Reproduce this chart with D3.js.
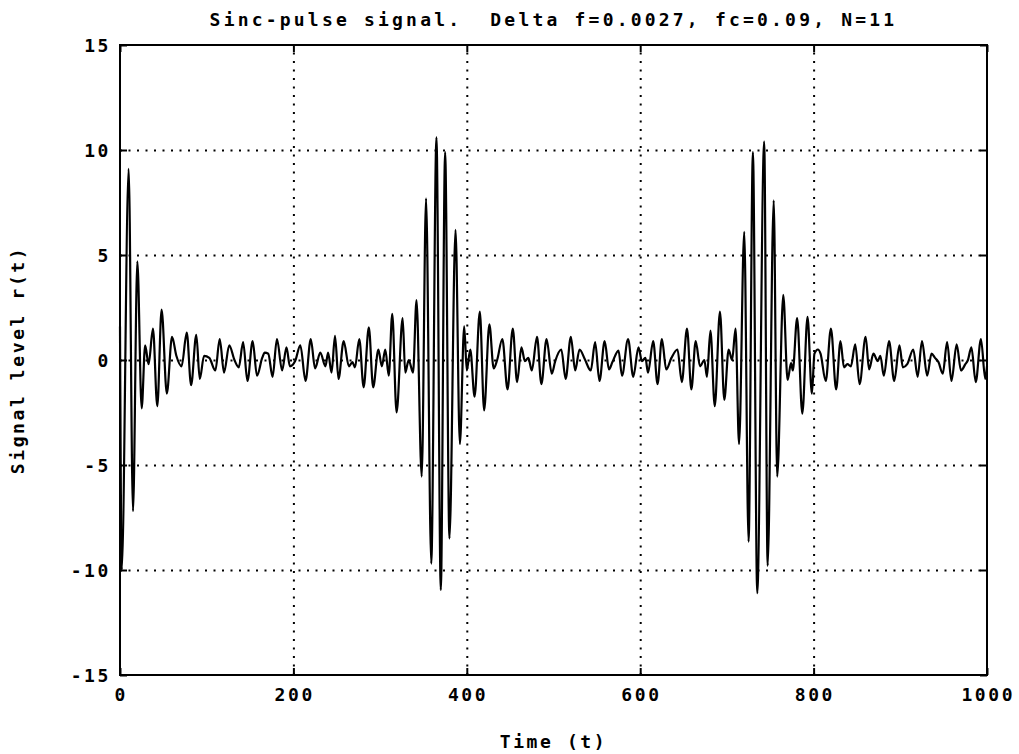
<!doctype html>
<html>
<head>
<meta charset="utf-8">
<title>sinc-pulse signal</title>
<script src="https://d3js.org/d3.v7.min.js"></script>
<style>
  body { margin: 0; background: #fff; }
  text {
    font-family: "DejaVu Sans Mono", monospace;
    font-weight: bold;
    font-size: 18px;
    letter-spacing: 2.6px;
    fill: #000;
    white-space: pre;
  }
  .grid line { stroke: #000; stroke-width: 2; stroke-dasharray: 2, 6.5; }
  .grid path { display: none; }
  .tick-in line { stroke: #000; stroke-width: 2; }
  .tick-in path { display: none; }
</style>
</head>
<body>
<svg></svg>
<script>
// local extremes of r(t)
var timeVals = [0, 2, 10, 15, 20, 25, 29, 33, 38, 43, 48, 54, 60, 65, 71, 77, 82, 88, 92, 97,
  103, 110, 115, 120, 126, 132, 137, 142, 147, 153, 158, 164, 167, 171, 176, 181, 187, 192, 196, 202,
  208, 214, 220, 225, 231, 237, 240, 244, 248, 252, 258, 264, 268, 271, 276, 281, 287, 292, 298, 302,
  306, 310, 314, 319, 326, 329, 333, 338, 342, 348, 353, 359, 365, 370, 375, 380, 387, 392, 397, 400,
  404, 409, 415, 420, 426, 431, 435, 441, 447, 453, 458, 463, 467, 471, 475, 481, 486, 492, 498, 502,
  509, 514, 520, 525, 530, 536, 543, 548, 553, 559, 564, 568, 575, 579, 586, 592, 598, 602, 606, 609,
  615, 620, 625, 630, 636, 643, 648, 654, 659, 664, 669, 674, 677, 681, 686, 692, 697, 702, 706, 710,
  714, 720, 725, 730, 735, 743, 747, 754, 758, 765, 770, 774, 776, 781, 787, 793, 798, 801, 805, 808,
  814, 820, 826, 831, 835, 839, 843, 848, 853, 860, 864, 869, 874, 877, 881, 887, 893, 899, 903, 908,
  915, 920, 925, 931, 936, 940, 944, 949, 954, 959, 965, 970, 975, 978, 982, 987, 993, 998, 1000];

var signalVals = [1.6, -10.0, 9.1, -7.2, 4.7, -2.3, 0.7, -0.2, 1.5, -2.2, 2.4, -1.6, 1.1, 0.2, -0.3, 1.3, -1.2, 1.2, -0.9, 0.2,
  0.1, -0.5, 1.0, -0.6, 0.7, 0.0, -0.35, 0.85, -1.0, 0.9, -0.75, 0.1, 0.35, 0.3, -0.8, 1.0, -0.5, 0.6, -0.3, -0.05,
  0.7, -1.0, 1.0, -0.4, 0.35, -0.3, 0.35, -0.6, 1.15, -0.9, 0.9, -0.3, -0.1, -0.35, 1.0, -1.3, 1.55, -1.3, 0.5, -0.3,
  0.5, -0.75, 2.2, -2.5, 2.0, -0.6, 0.0, -0.6, 2.85, -5.55, 7.7, -9.7, 10.6, -10.95, 9.9, -8.5, 6.2, -4.0, 1.6, -0.5,
  0.5, -1.75, 2.3, -2.4, 1.7, -0.4, 0.0, 1.0, -1.4, 1.5, -1.05, 0.6, -0.05, 0.1, -0.5, 1.1, -1.15, 1.0, -0.65, -0.05,
  0.5, -0.9, 1.1, -0.5, 0.5, 0.05, -0.5, 0.85, -1.0, 0.9, -0.45, -0.1, 0.45, -0.75, 1.0, -0.8, 0.6, -0.05, 0.1, -0.6,
  0.9, -1.15, 1.0, -0.45, 0.1, 0.5, -1.05, 1.5, -1.4, 0.9, -0.3, 0.0, -0.8, 1.4, -2.2, 2.3, -1.9, 0.5, 0.0, 1.5,
  -4.0, 6.1, -8.65, 9.9, -11.1, 10.4, -9.8, 7.6, -5.55, 3.1, -0.95, -0.15, -0.5, 2.0, -2.55, 2.05, -1.6, 0.3, 0.5, 0.3,
  -1.0, 1.5, -1.4, 0.9, -0.35, -0.2, -0.3, 0.75, -1.15, 1.1, -0.45, 0.3, -0.05, 0.2, -0.75, 0.9, -1.0, 0.7, -0.35, -0.2,
  0.5, -0.8, 0.9, -0.75, 0.3, 0.1, -0.1, -0.65, 0.85, -1.0, 0.75, -0.5, -0.2, 0.0, 0.6, -1.05, 1.0, -0.9, -0.3];

var xTicks = [0, 200, 400, 600, 800, 1000];
var yTicks = [-15, -10, -5, 0, 5, 10, 15];
var titleText = "Sinc-pulse signal.  Delta f=0.0027, fc=0.09, N=11";
var xLabel = "Time (t)";
var yLabel = "Signal level r(t)";

var W = 1019, H = 754;
var margin = {top: 45, right: 32, bottom: 79, left: 120};
var w = W - margin.left - margin.right,
  h = H - margin.top - margin.bottom;

var svg = d3.select('svg').attr('width', W).attr('height', H);
var g = svg.append('g').attr('transform', 'translate(' + margin.left + ',' + margin.top + ')');

var x = d3.scaleLinear().domain([0, 1000]).range([0, w]);
var y = d3.scaleLinear().domain([-15, 15]).range([h, 0]);

// dotted grid
g.append('g').attr('class', 'grid')
  .attr('transform', 'translate(0,' + h + ')')
  .call(d3.axisBottom(x).tickValues(xTicks.slice(1, -1)).tickSize(-h).tickFormat(''));
g.append('g').attr('class', 'grid')
  .call(d3.axisLeft(y).tickValues(yTicks.slice(1, -1)).tickSize(-w).tickFormat(''));

// short inward ticks on every side
g.append('g').attr('class', 'tick-in').attr('transform', 'translate(0,' + h + ')')
  .call(d3.axisBottom(x).tickValues(xTicks).tickSize(-7).tickFormat(''));
g.append('g').attr('class', 'tick-in')
  .call(d3.axisTop(x).tickValues(xTicks).tickSize(-7).tickFormat(''));
g.append('g').attr('class', 'tick-in')
  .call(d3.axisLeft(y).tickValues(yTicks).tickSize(-7).tickFormat(''));
g.append('g').attr('class', 'tick-in').attr('transform', 'translate(' + w + ',0)')
  .call(d3.axisRight(y).tickValues(yTicks).tickSize(-7).tickFormat(''));

// signal
var pts = timeVals.map(function(t, i) { return [t, signalVals[i]]; });
var line = d3.line()
  .x(function(d) { return x(d[0]); })
  .y(function(d) { return y(d[1]); })
  .curve(d3.curveMonotoneX);
g.append('path')
  .datum(pts)
  .attr('d', line)
  .attr('fill', 'none')
  .attr('stroke', '#000')
  .attr('stroke-width', 2.2)
  .attr('stroke-linejoin', 'round');

// frame
g.append('rect')
  .attr('width', w).attr('height', h)
  .attr('fill', 'none').attr('stroke', '#000').attr('stroke-width', 2);

// tick labels
g.selectAll('.xlab').data(xTicks).enter().append('text')
  .attr('class', 'xlab')
  .attr('x', function(d) { return x(d) + 1.3; })
  .attr('y', h + 26)
  .attr('text-anchor', 'middle')
  .text(function(d) { return d; });
g.selectAll('.ylab').data(yTicks).enter().append('text')
  .attr('class', 'ylab')
  .attr('x', -9)
  .attr('y', function(d) { return y(d) + 7; })
  .attr('text-anchor', 'end')
  .text(function(d) { return d; });

// title and axis names
svg.append('text')
  .attr('x', margin.left + w / 2)
  .attr('y', 26)
  .attr('text-anchor', 'middle')
  .style('letter-spacing', '3.2px')
  .text(titleText);
svg.append('text')
  .attr('x', margin.left + w / 2)
  .attr('y', 748)
  .attr('text-anchor', 'middle')
  .text(xLabel);
svg.append('text')
  .attr('transform', 'translate(24,' + (margin.top + h / 2) + ') rotate(-90)')
  .attr('text-anchor', 'middle')
  .text(yLabel);
</script>
</body>
</html>
